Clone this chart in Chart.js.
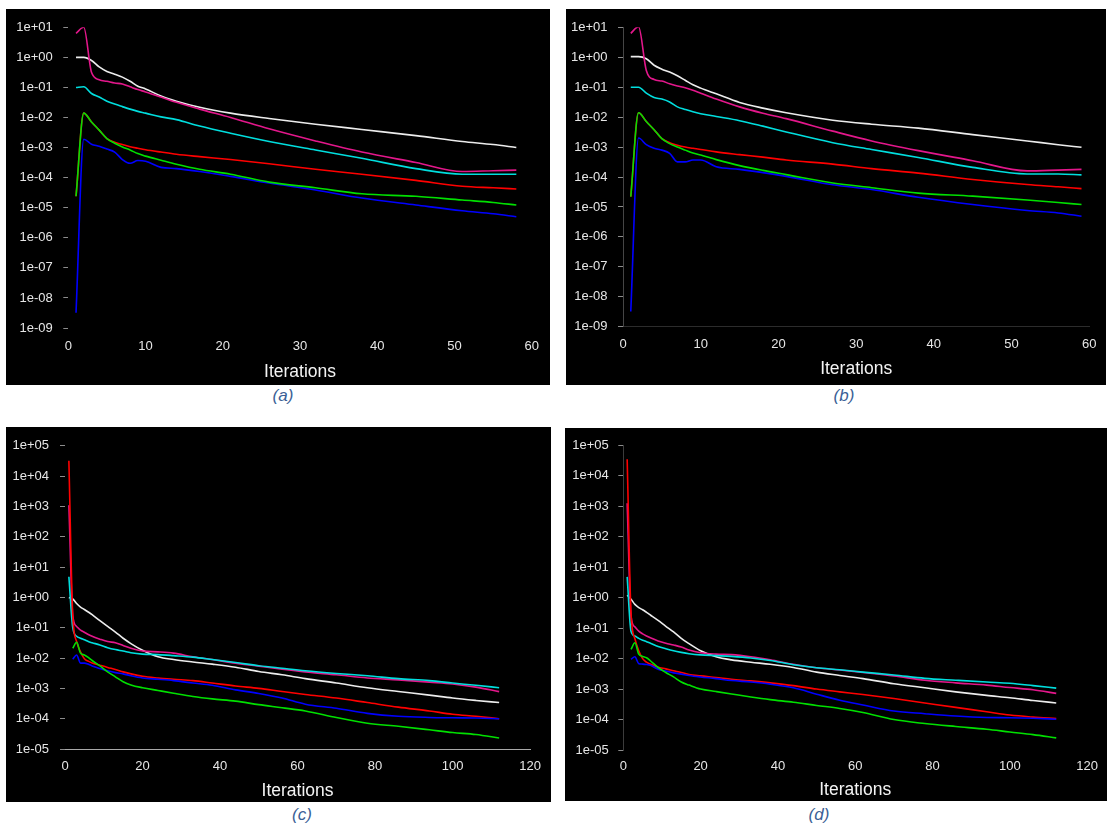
<!DOCTYPE html>
<html>
<head>
<meta charset="utf-8">
<script src="https://cdn.jsdelivr.net/npm/chart.js@4.4.0/dist/chart.umd.min.js"></script>
<style>
  html, body { margin: 0; padding: 0; background: #fff; }
  body { width: 1108px; height: 825px; position: relative; overflow: hidden; }
  canvas { position: absolute; background: #000; }
  .cap { position: absolute; font: italic 17px "Liberation Sans", Arial, sans-serif; color: #3b5f96;
         transform: translate(-50%, -50%); white-space: nowrap; }
</style>
</head>
<body>
<canvas id="ca" width="544" height="376" style="left:6px;top:9px"></canvas>
<canvas id="cb" width="540" height="376" style="left:566px;top:9px"></canvas>
<canvas id="cc" width="545" height="375" style="left:6px;top:427px"></canvas>
<canvas id="cd" width="542" height="373" style="left:565px;top:428px"></canvas>
<div class="cap" style="left:283px;top:396px">(a)</div>
<div class="cap" style="left:844px;top:396px">(b)</div>
<div class="cap" style="left:302px;top:815px">(c)</div>
<div class="cap" style="left:819px;top:815px">(d)</div>
<script>
// tick labels
const yTicksAB = ['1e+01', '1e+00', '1e-01', '1e-02', '1e-03', '1e-04', '1e-05', '1e-06', '1e-07', '1e-08', '1e-09'];
const yTicksCD = ['1e+05', '1e+04', '1e+03', '1e+02', '1e+01', '1e+00', '1e-01', '1e-02', '1e-03', '1e-04', '1e-05'];
const xTicksAB = [0, 10, 20, 30, 40, 50, 60];
const xTicksCD = [0, 20, 40, 60, 80, 100, 120];

// (a) residuals
const itersA   = [1, 2, 3, 4, 5, 6, 7, 8, 9, 10, 12, 14, 17, 21, 26, 32, 38, 45, 51, 55, 58];
const whiteA   = [1.0, 1.0, 0.79, 0.48, 0.34, 0.275, 0.22, 0.16, 0.11, 0.089, 0.052, 0.035, 0.022, 0.014, 9.3e-3, 6.0e-3, 4.0e-3, 2.5e-3, 1.6e-3, 1.26e-3, 1.0e-3];
const magentaA = [6.3, 10, 0.32, 0.18, 0.16, 0.14, 0.13, 0.105, 0.085, 0.071, 0.048, 0.032, 0.019, 0.01, 4.2e-3, 1.66e-3, 7.1e-4, 3.2e-4, 1.6e-4, 1.7e-4, 1.78e-4];
const cyanA    = [0.1, 0.105, 0.063, 0.048, 0.035, 0.028, 0.023, 0.019, 0.016, 0.014, 0.0105, 8.5e-3, 5.2e-3, 3.0e-3, 1.6e-3, 8.3e-4, 4.4e-4, 2.0e-4, 1.3e-4, 1.3e-4, 1.3e-4];
const redA     = [2.4e-5, 1.4e-2, 7.1e-3, 3.8e-3, 2.0e-3, 1.5e-3, 1.26e-3, 1.07e-3, 9.5e-4, 8.5e-4, 7.1e-4, 6.0e-4, 5.0e-4, 4.0e-4, 2.9e-4, 1.9e-4, 1.3e-4, 8.1e-5, 5.2e-5, 4.6e-5, 4.2e-5];
const greenA   = [2.4e-5, 1.4e-2, 7.1e-3, 3.8e-3, 2.0e-3, 1.4e-3, 1.05e-3, 8.3e-4, 6.3e-4, 5.2e-4, 3.8e-4, 2.8e-4, 1.9e-4, 1.3e-4, 7.1e-5, 4.6e-5, 2.9e-5, 2.4e-5, 1.8e-5, 1.5e-5, 1.23e-5];
const blueA    = [3.2e-9, 1.9e-3, 1.3e-3, 1.1e-3, 8.9e-4, 7.1e-4, 4.0e-4, 3.0e-4, 3.7e-4, 3.5e-4, 2.2e-4, 2.0e-4, 1.6e-4, 1.1e-4, 6.6e-5, 3.9e-5, 2.1e-5, 1.23e-5, 7.9e-6, 6.3e-6, 5.0e-6];

// (b) residuals
const itersB   = [1, 2, 3, 4, 5, 6, 7, 8, 9, 10, 12, 15, 18, 21, 27, 32, 38, 45, 52, 56, 59];
const whiteB   = [1.05, 1.05, 0.89, 0.54, 0.4, 0.32, 0.24, 0.17, 0.12, 0.093, 0.06, 0.031, 0.02, 0.014, 7.9e-3, 5.8e-3, 4.3e-3, 2.6e-3, 1.6e-3, 1.2e-3, 9.8e-4];
const magentaB = [6.3, 10.5, 0.36, 0.18, 0.16, 0.13, 0.11, 0.095, 0.079, 0.063, 0.04, 0.022, 0.0135, 8.9e-3, 3.4e-3, 1.6e-3, 7.6e-4, 3.5e-4, 1.6e-4, 1.7e-4, 1.8e-4];
const cyanB    = [0.1, 0.1, 0.063, 0.045, 0.04, 0.032, 0.022, 0.018, 0.015, 0.013, 0.0105, 7.6e-3, 5.0e-3, 3.2e-3, 1.4e-3, 8.3e-4, 4.5e-4, 2.1e-4, 1.26e-4, 1.26e-4, 1.18e-4];
const redB     = [2.2e-5, 1.4e-2, 7.1e-3, 3.8e-3, 1.9e-3, 1.4e-3, 1.15e-3, 1.0e-3, 9.1e-4, 8.3e-4, 6.9e-4, 5.6e-4, 4.6e-4, 3.7e-4, 2.7e-4, 1.9e-4, 1.35e-4, 8.3e-5, 5.6e-5, 4.7e-5, 4.1e-5];
const greenB   = [2.2e-5, 1.4e-2, 7.1e-3, 3.8e-3, 1.9e-3, 1.3e-3, 1.0e-3, 7.9e-4, 6.3e-4, 5.4e-4, 3.8e-4, 2.4e-4, 1.66e-4, 1.2e-4, 6.3e-5, 4.4e-5, 2.9e-5, 2.3e-5, 1.7e-5, 1.4e-5, 1.2e-5];
const blueB    = [3.2e-9, 2.0e-3, 1.2e-3, 9.1e-4, 7.9e-4, 6.2e-4, 3.2e-4, 3.2e-4, 3.7e-4, 3.7e-4, 2.2e-4, 1.8e-4, 1.4e-4, 1.05e-4, 5.5e-5, 3.8e-5, 2.1e-5, 1.2e-5, 7.6e-6, 6.3e-6, 4.9e-6];

// (c) residuals
const itersC   = [1, 2, 3, 4, 5, 6, 7, 9, 11, 13, 15, 17, 20, 24, 28, 33, 38, 44, 50, 56, 62, 70, 78, 86, 94, 100, 106, 112];
const whiteC   = [1.0, 0.89, 0.63, 0.48, 0.4, 0.33, 0.27, 0.17, 0.11, 0.072, 0.045, 0.03, 0.018, 0.011, 8.9e-3, 7.4e-3, 6.3e-3, 5.0e-3, 3.6e-3, 2.8e-3, 2.1e-3, 1.5e-3, 1.05e-3, 7.9e-4, 6.0e-4, 4.8e-4, 4.0e-4, 3.4e-4];
const magentaC = [1.1e3, 0.25, 0.11, 0.083, 0.071, 0.06, 0.052, 0.042, 0.035, 0.032, 0.026, 0.021, 0.017, 0.016, 0.0145, 0.011, 8.9e-3, 6.8e-3, 5.4e-3, 4.3e-3, 3.5e-3, 2.8e-3, 2.2e-3, 1.9e-3, 1.6e-3, 1.4e-3, 1.1e-3, 7.8e-4];
const cyanC    = [4.8, 0.1, 0.052, 0.045, 0.04, 0.035, 0.032, 0.027, 0.022, 0.019, 0.017, 0.015, 0.0135, 0.013, 0.012, 0.0107, 8.9e-3, 7.1e-3, 5.6e-3, 4.6e-3, 3.8e-3, 3.1e-3, 2.6e-3, 2.1e-3, 1.8e-3, 1.5e-3, 1.26e-3, 1.05e-3];
const redC     = [3.2e4, 0.25, 0.035, 0.016, 9.5e-3, 7.9e-3, 6.9e-3, 5.8e-3, 4.9e-3, 4.2e-3, 3.5e-3, 3.0e-3, 2.5e-3, 2.2e-3, 2.0e-3, 1.8e-3, 1.5e-3, 1.2e-3, 1.0e-3, 7.9e-4, 6.3e-4, 4.8e-4, 3.4e-4, 2.4e-4, 1.8e-4, 1.4e-4, 1.2e-4, 1.0e-4];
const greenC   = [null, 0.021, 0.033, 0.0145, 0.0126, 0.0105, 8.3e-3, 5.5e-3, 3.5e-3, 2.4e-3, 1.66e-3, 1.3e-3, 1.05e-3, 8.5e-4, 6.9e-4, 5.4e-4, 4.5e-4, 3.8e-4, 2.9e-4, 2.3e-4, 1.8e-4, 1.1e-4, 7.1e-5, 5.6e-5, 4.3e-5, 3.5e-5, 3.0e-5, 2.3e-5];
const blueC    = [null, 9.1e-3, 0.0126, 6.8e-3, 6.8e-3, 6.3e-3, 5.5e-3, 4.5e-3, 3.8e-3, 3.3e-3, 3.0e-3, 2.6e-3, 2.2e-3, 2.0e-3, 1.8e-3, 1.5e-3, 1.26e-3, 8.9e-4, 6.8e-4, 4.8e-4, 3.0e-4, 2.2e-4, 1.5e-4, 1.2e-4, 1.1e-4, 1.07e-4, 1.05e-4, 1.0e-4];

// (d) residuals
const itersD   = [1, 2, 3, 4, 5, 6, 7, 9, 11, 13, 15, 17, 20, 24, 28, 33, 38, 44, 50, 56, 62, 70, 78, 86, 94, 100, 106, 112];
const whiteD   = [1.2, 0.89, 0.6, 0.47, 0.4, 0.33, 0.27, 0.18, 0.115, 0.075, 0.046, 0.031, 0.018, 0.0115, 9.1e-3, 7.6e-3, 6.5e-3, 5.1e-3, 3.6e-3, 2.8e-3, 2.2e-3, 1.5e-3, 1.1e-3, 8.1e-4, 6.2e-4, 5.2e-4, 4.2e-4, 3.5e-4];
const magentaD = [1.25e3, 0.25, 0.11, 0.08, 0.065, 0.055, 0.048, 0.038, 0.032, 0.028, 0.024, 0.019, 0.0155, 0.014, 0.0135, 0.0115, 9.1e-3, 6.5e-3, 5.0e-3, 4.2e-3, 3.5e-3, 2.7e-3, 1.95e-3, 1.6e-3, 1.35e-3, 1.12e-3, 9.5e-4, 7.2e-4];
const cyanD    = [4.8, 0.078, 0.055, 0.046, 0.04, 0.036, 0.032, 0.025, 0.021, 0.018, 0.016, 0.0145, 0.0132, 0.0125, 0.0118, 0.0105, 8.7e-3, 6.3e-3, 5.0e-3, 4.3e-3, 3.6e-3, 2.9e-3, 2.25e-3, 1.95e-3, 1.7e-3, 1.55e-3, 1.3e-3, 1.07e-3];
const redD     = [3.5e4, 0.3, 0.045, 0.018, 0.01, 7.6e-3, 6.6e-3, 5.2e-3, 4.6e-3, 4.0e-3, 3.5e-3, 3.0e-3, 2.7e-3, 2.4e-3, 2.1e-3, 1.85e-3, 1.6e-3, 1.3e-3, 1.0e-3, 8.1e-4, 6.6e-4, 4.9e-4, 3.5e-4, 2.5e-4, 1.8e-4, 1.4e-4, 1.2e-4, 1.07e-4];
const greenD   = [null, 0.02, 0.033, 0.014, 0.0118, 0.0107, 8.5e-3, 5.1e-3, 3.5e-3, 2.5e-3, 1.7e-3, 1.35e-3, 1.0e-3, 8.3e-4, 6.9e-4, 5.5e-4, 4.5e-4, 3.7e-4, 2.9e-4, 2.3e-4, 1.7e-4, 1.0e-4, 7.4e-5, 5.9e-5, 4.8e-5, 3.9e-5, 3.2e-5, 2.5e-5];
const blueD    = [null, 9.5e-3, 0.0115, 6.8e-3, 6.6e-3, 6.4e-3, 6.0e-3, 4.5e-3, 3.9e-3, 3.4e-3, 3.1e-3, 2.8e-3, 2.5e-3, 2.2e-3, 1.9e-3, 1.7e-3, 1.45e-3, 1.1e-3, 6.8e-4, 4.3e-4, 3.0e-4, 1.9e-4, 1.55e-4, 1.3e-4, 1.17e-4, 1.15e-4, 1.1e-4, 1.02e-4];

const lineColors = {
    green: '#00e000', blue: '#0000ff', red: '#ff0000',
    magenta: '#e3178b', cyan: '#00dede', white: '#ececec'
};
const tickFont = '"Liberation Sans Narrow", "Liberation Sans", Arial, sans-serif';
const titleFont = '"Liberation Sans", Arial, sans-serif';

function makePanel (id, { iters, series, xTicks, yTicks, yWidth, xHeight, top, right,
                          xPad, yPad, titlePad, yBorder, xBorder }) {
    const ctx = document.getElementById(id);

    // dataset 0 is drawn on top
    const order = ['green', 'blue', 'red', 'cyan', 'magenta', 'white'];
    const datasets = order.map(name => ({
        data: iters.map((x, i) => ({ x: x, y: series[name][i] })),
        borderColor: lineColors[name],
        borderWidth: 1.6,
        pointRadius: 0,
        cubicInterpolationMode: 'monotone',
        spanGaps: false
    }));

    return new Chart(ctx, {
        type: 'line',
        data: { datasets: datasets },
        options: {
            responsive: false,
            animation: false,
            devicePixelRatio: 1,
            layout: { autoPadding: false, padding: { top: top, right: right, left: 0, bottom: 0 } },
            scales: {
                x: {
                    type: 'linear',
                    min: xTicks[0],
                    max: xTicks[xTicks.length - 1],
                    afterBuildTicks: s => { s.ticks = xTicks.map(v => ({ value: v })); },
                    afterFit: s => { s.height = xHeight; },
                    ticks: { color: '#e6e6e6', font: { family: tickFont, size: 13 }, padding: xPad,
                             autoSkip: false, maxRotation: 0 },
                    grid: { drawOnChartArea: false, drawTicks: false },
                    border: { display: xBorder !== null, color: xBorder || '#000', width: 1 },
                    title: { display: true, text: 'Iterations', color: '#f4f4f4',
                             font: { family: titleFont, size: 17.5 }, padding: { top: 0, bottom: titlePad } }
                },
                y: {
                    type: 'logarithmic',
                    min: Number(yTicks[yTicks.length - 1]),
                    max: Number(yTicks[0]),
                    afterBuildTicks: s => { s.ticks = yTicks.map(t => ({ value: Number(t) })); },
                    afterFit: s => { s.width = yWidth; },
                    ticks: { color: '#e6e6e6', font: { family: tickFont, size: 13 }, padding: yPad,
                             autoSkip: false, callback: (value, index) => yTicks[index] },
                    grid: { drawOnChartArea: false, drawTicks: true, tickLength: 5,
                            tickColor: '#8c8c8c', tickWidth: 1 },
                    border: { display: yBorder !== null, color: yBorder || '#000', width: 1 }
                }
            },
            plugins: {
                legend: { display: false },
                tooltip: { enabled: false }
            }
        }
    });
}

makePanel('ca', {
    iters: itersA,
    series: { white: whiteA, magenta: magentaA, cyan: cyanA, red: redA, green: greenA, blue: blueA },
    xTicks: xTicksAB, yTicks: yTicksAB,
    yWidth: 62.3, xHeight: 57, top: 16, right: 11.3, xPad: 11, yPad: 10.5, titlePad: 2.5,
    yBorder: null, xBorder: null
});
makePanel('cb', {
    iters: itersB,
    series: { white: whiteB, magenta: magentaB, cyan: cyanB, red: redB, green: greenB, blue: blueB },
    xTicks: xTicksAB, yTicks: yTicksAB,
    yWidth: 57, xHeight: 58.3, top: 16, right: 9.3, xPad: 9.5, yPad: 10.5, titlePad: 5,
    yBorder: '#454545', xBorder: '#2c2c2c'
});
makePanel('cc', {
    iters: itersC,
    series: { white: whiteC, magenta: magentaC, cyan: cyanC, red: redC, green: greenC, blue: blueC },
    xTicks: xTicksCD, yTicks: yTicksCD,
    yWidth: 59, xHeight: 53, top: 15.7, right: 20, xPad: 10, yPad: 11, titlePad: 0,
    yBorder: null, xBorder: '#a8a8a8'
});
makePanel('cd', {
    iters: itersD,
    series: { white: whiteD, magenta: magentaD, cyan: cyanD, red: redD, green: greenD, blue: blueD },
    xTicks: xTicksCD, yTicks: yTicksCD,
    yWidth: 58.3, xHeight: 51, top: 17, right: 12, xPad: 9, yPad: 9.5, titlePad: 0,
    yBorder: '#3c3c3c', xBorder: null
});
</script>
</body>
</html>
